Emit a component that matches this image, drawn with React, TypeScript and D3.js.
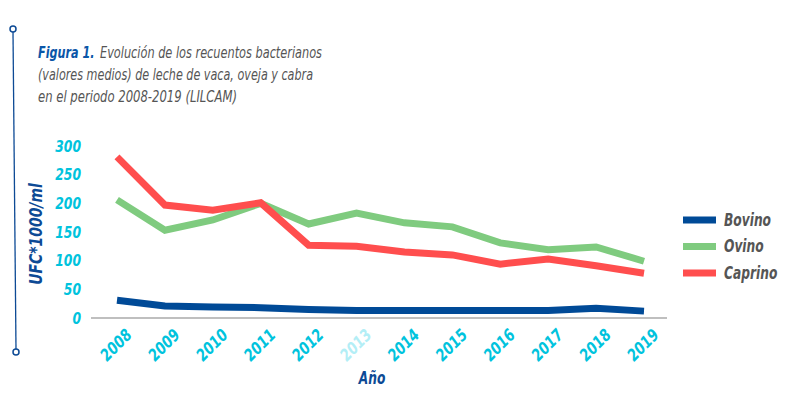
import React from 'react';
import * as d3 from 'd3';

const years = ['2008', '2009', '2010', '2011', '2012', '2013', '2014', '2015', '2016', '2017', '2018', '2019'];
const bovino = [31, 21, 19, 18, 15, 13, 13, 13, 13, 13, 17, 12];
const ovino = [206, 153, 171, 200, 164, 183, 166, 159, 131, 119, 124, 99];
const caprino = [281, 197, 188, 201, 127, 125, 115, 110, 94, 103, 91, 78];
const yTicks = [0, 50, 100, 150, 200, 250, 300];

const seriesList = [
  { name: 'Bovino', values: bovino, color: '#004a97' },
  { name: 'Ovino', values: ovino, color: '#7fcb7f' },
  { name: 'Caprino', values: caprino, color: '#ff4e4e' },
];

const FONT = '"DejaVu Sans", sans-serif';
const CYAN = '#00c3dd';
const NAVY = '#0d4a95';

// no condensed face is installed, so squeeze the text horizontally
const Squeezed: React.FC<{
  x: number; y: number; sx: number; rotate?: number;
  children: React.ReactNode;
} & React.SVGProps<SVGTextElement>> = ({ x, y, sx, rotate = 0, children, ...rest }) => (
  <text transform={`translate(${x},${y}) rotate(${rotate}) scale(${sx},1)`} {...rest}>
    {children}
  </text>
);

const App: React.FC = () => {
  const width = 800;
  const height = 416;

  const x = d3.scalePoint<string>().domain(years).range([117, 644]);
  const y = d3.scaleLinear().domain([0, 300]).range([318, 146]);

  const line = d3.line<number>()
    .x((_, i) => x(years[i])!)
    .y(d => y(d));

  return (
    <svg width={width} height={height} style={{ position: 'absolute', left: 0, top: 0, background: '#fff' }}>
      {/* decorative side rule */}
      <line x1={13} y1={32} x2={16} y2={349} stroke={NAVY} strokeWidth={1.3} />
      <circle cx={13} cy={29} r={3} fill="#fff" stroke={NAVY} strokeWidth={1.5} />
      <circle cx={16} cy={352} r={3} fill="#fff" stroke={NAVY} strokeWidth={1.5} />

      {/* title */}
      <g fontFamily={FONT} fontStyle="italic" fontSize={16} fill="#555">
        <Squeezed x={38} y={58} sx={0.7} fontWeight="bold" fill="#0a56a8">
          Figura 1.
        </Squeezed>
        <text x={100} y={58} textLength={222} lengthAdjust="spacingAndGlyphs">
          Evolución de los recuentos bacterianos
        </text>
        <text x={38} y={80} textLength={275} lengthAdjust="spacingAndGlyphs">
          (valores medios) de leche de vaca, oveja y cabra
        </text>
        <text x={38} y={102} textLength={199} lengthAdjust="spacingAndGlyphs">
          en el periodo 2008-2019 (LILCAM)
        </text>
      </g>

      {/* y axis labels */}
      <g fontFamily={FONT} fontStyle="italic" fontWeight="bold" fontSize={16.5} fill={CYAN} textAnchor="end">
        {yTicks.map(t => (
          <Squeezed key={t} x={81} y={y(t)} sx={0.75} dy="0.35em">{t}</Squeezed>
        ))}
      </g>
      <Squeezed
        x={42}
        y={234}
        rotate={-90}
        sx={0.82}
        textAnchor="middle"
        fontFamily={FONT}
        fontStyle="italic"
        fontWeight="bold"
        fontSize={17}
        fill={NAVY}
      >
        UFC*1000/ml
      </Squeezed>

      {/* baseline */}
      <line x1={91} x2={667} y1={y(0)} y2={y(0)} stroke="#aaa" strokeWidth={1.5} />

      {/* x axis labels */}
      <g fontFamily={FONT} fontStyle="italic" fontWeight="bold" fontSize={16.5} textAnchor="middle">
        {years.map(yr => (
          <Squeezed
            key={yr}
            x={x(yr)! - 1}
            y={345}
            rotate={-45}
            sx={0.8}
            dy="0.35em"
            fill={yr === '2013' ? '#b3eef6' : CYAN}
          >
            {yr}
          </Squeezed>
        ))}
      </g>
      <Squeezed x={372} y={384} sx={0.72} textAnchor="middle" fontFamily={FONT} fontStyle="italic" fontWeight="bold" fontSize={17} fill={NAVY}>
        Año
      </Squeezed>

      {/* lines */}
      {seriesList.map(s => (
        <path key={s.name} d={line(s.values)!} fill="none" stroke={s.color} strokeWidth={7} strokeLinejoin="miter" />
      ))}

      {/* legend */}
      <g fontFamily={FONT} fontStyle="italic" fontWeight="bold" fontSize={17} fill="#555">
        {seriesList.map((s, i) => (
          <g key={s.name} transform={`translate(683,${220 + i * 26.5})`}>
            <line x1={0} x2={33} y1={0} y2={0} stroke={s.color} strokeWidth={7} />
            <Squeezed x={41} y={0} sx={0.72} dy="0.35em">{s.name}</Squeezed>
          </g>
        ))}
      </g>
    </svg>
  );
};

export default App;
